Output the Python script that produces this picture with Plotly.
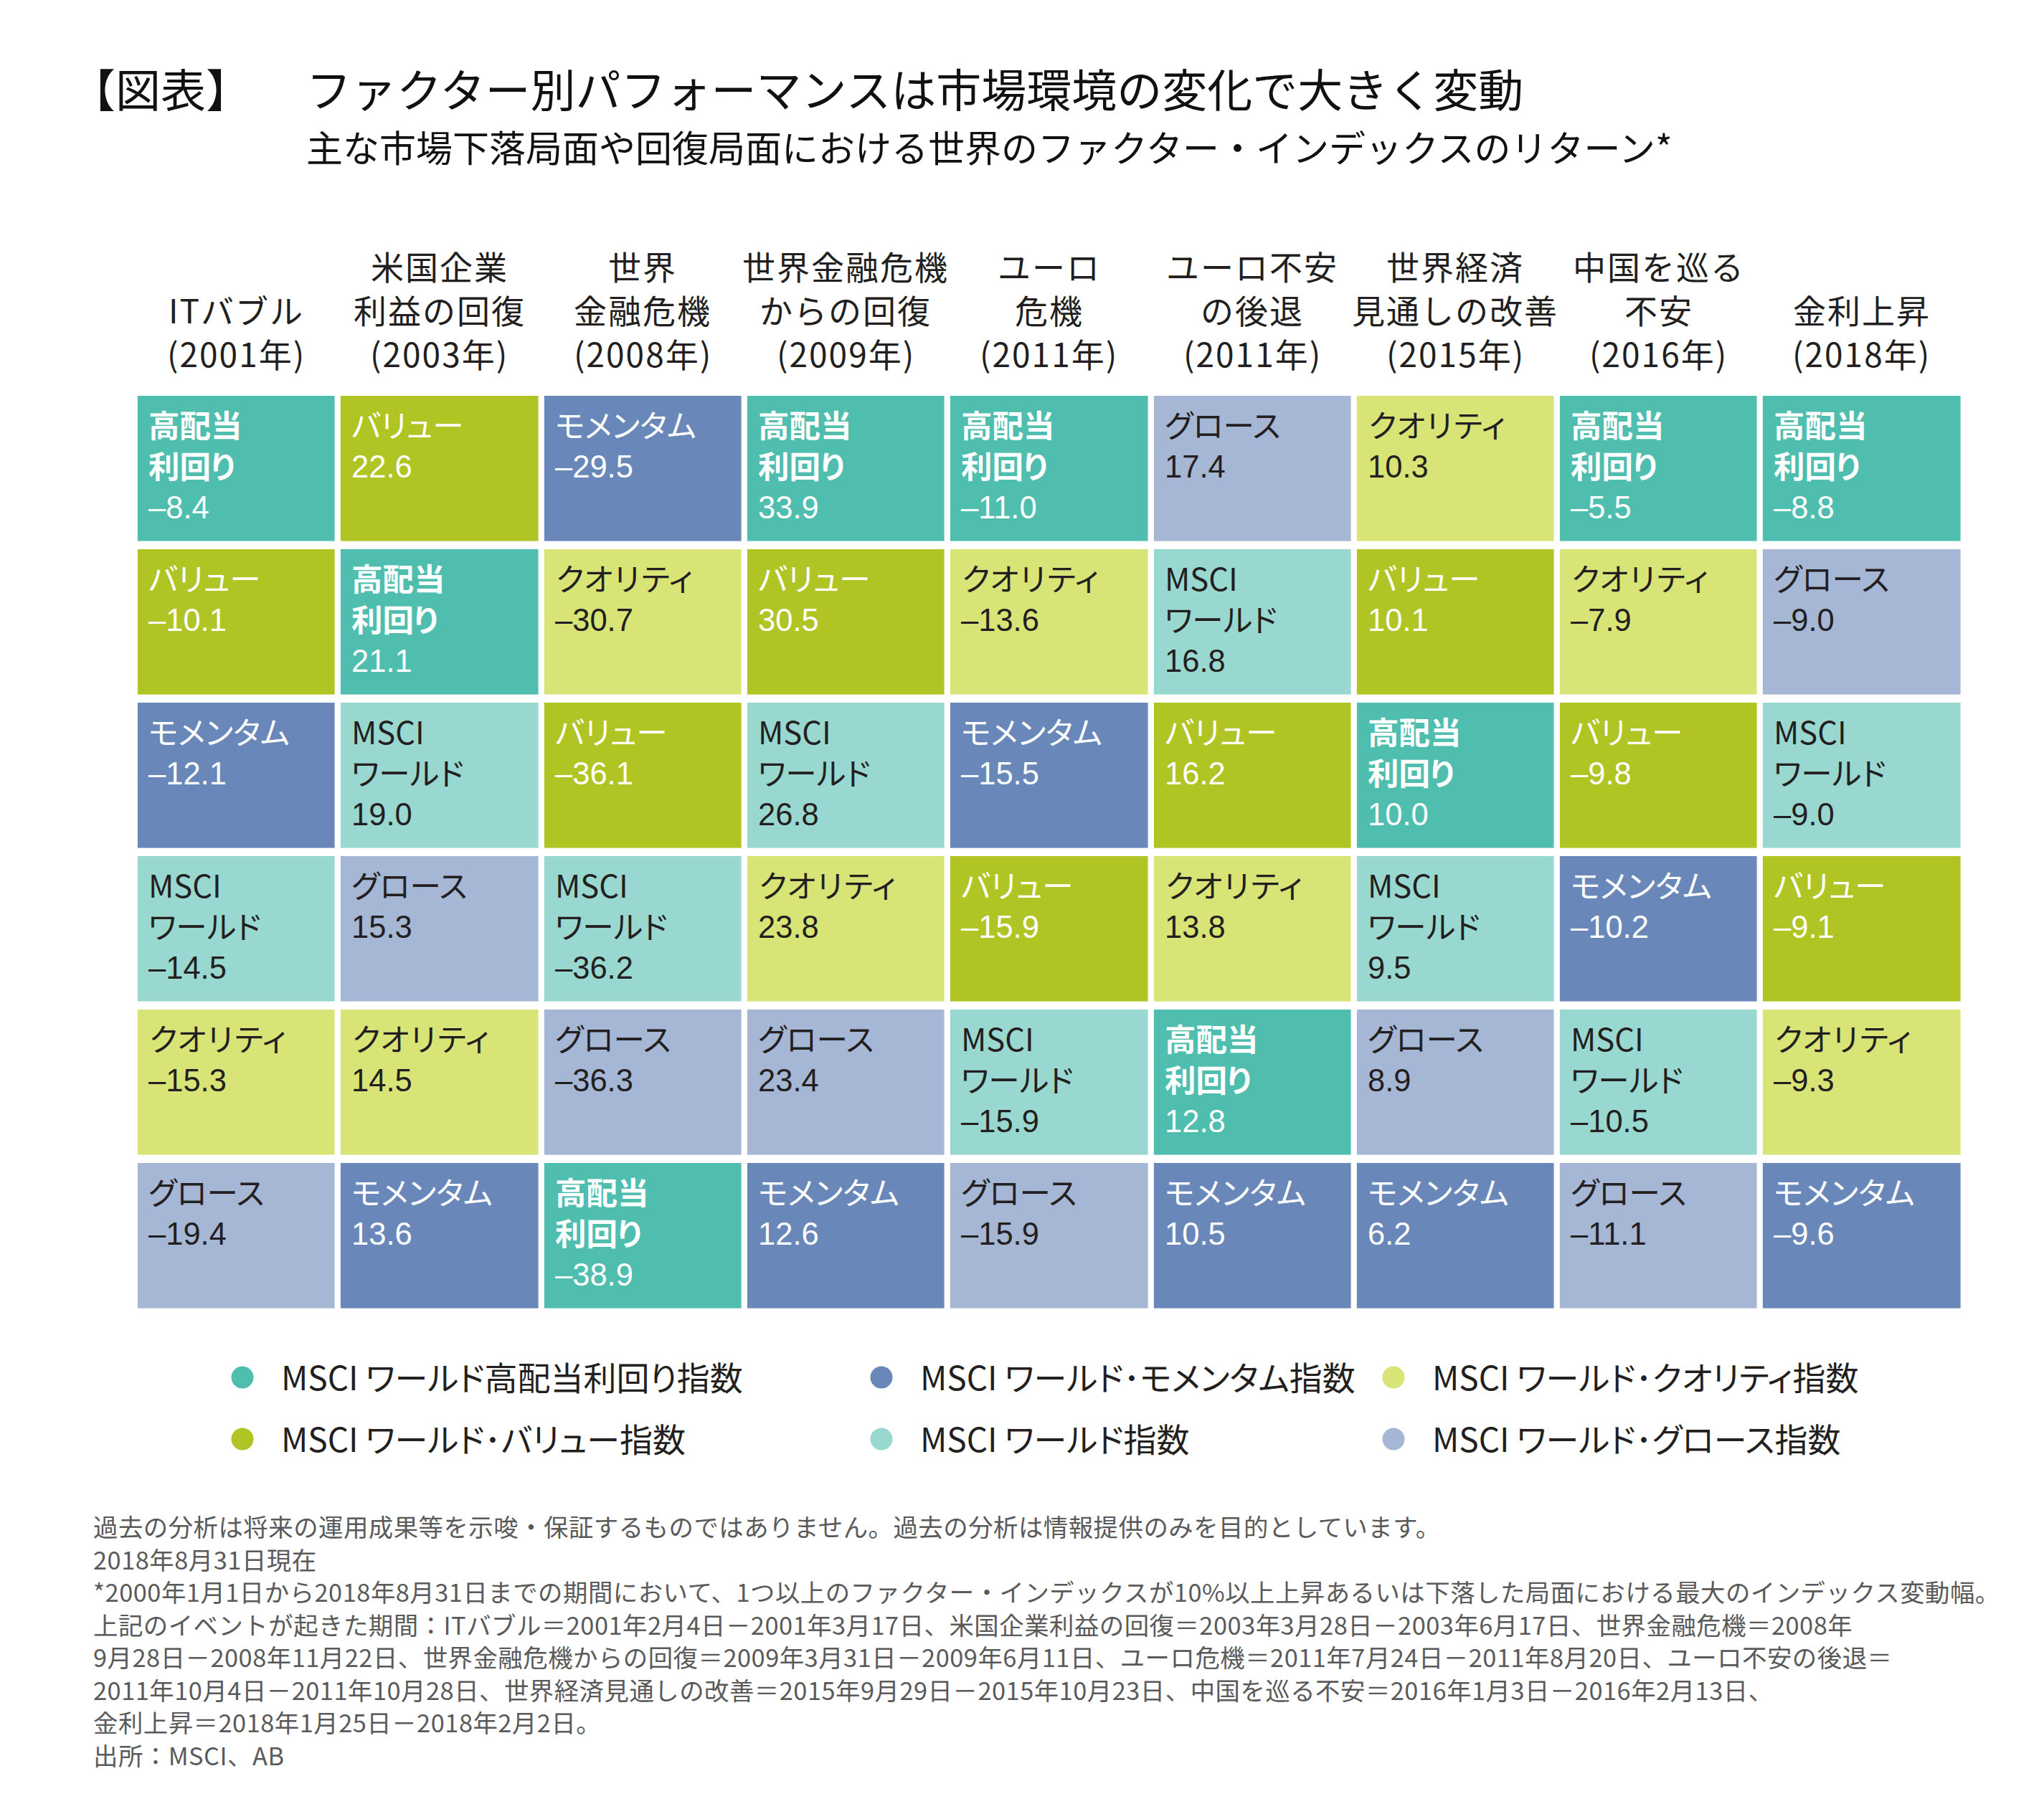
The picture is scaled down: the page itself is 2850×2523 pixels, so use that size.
import plotly.graph_objects as go

W, H = 2850, 2523

# ---------------- data ----------------
FACTOR_KEYS = ["HDY", "VAL", "MOM", "WLD", "QUA", "GRO"]
FACTOR_CELL_LABELS = {
    "HDY": ["高配当", "利回り"],
    "VAL": ["バリュー"],
    "MOM": ["モメンタム"],
    "WLD": ["MSCI", "ワールド"],
    "QUA": ["クオリティ"],
    "GRO": ["グロース"],
}
FACTOR_LEGEND_LABELS = {
    "HDY": "MSCI ワールド高配当利回り指数",
    "VAL": "MSCI ワールド･バリュー指数",
    "MOM": "MSCI ワールド･モメンタム指数",
    "WLD": "MSCI ワールド指数",
    "QUA": "MSCI ワールド･クオリティ指数",
    "GRO": "MSCI ワールド･グロース指数",
}
FACTOR_COLORS = {
    "HDY": "#50BEAE",
    "VAL": "#B0C423",
    "MOM": "#6988B9",
    "WLD": "#98D8D0",
    "QUA": "#D8E576",
    "GRO": "#A6B7D6",
}

EVENT_HEADERS = [
    ["ITバブル", "(2001年)"],
    ["米国企業", "利益の回復", "(2003年)"],
    ["世界", "金融危機", "(2008年)"],
    ["世界金融危機", "からの回復", "(2009年)"],
    ["ユーロ", "危機", "(2011年)"],
    ["ユーロ不安", "の後退", "(2011年)"],
    ["世界経済", "見通しの改善", "(2015年)"],
    ["中国を巡る", "不安", "(2016年)"],
    ["金利上昇", "(2018年)"],
]

# factor order (best to worst) within each event
RANK_ORDER = [
    ["HDY", "VAL", "MOM", "WLD", "QUA", "GRO"],
    ["VAL", "HDY", "WLD", "GRO", "QUA", "MOM"],
    ["MOM", "QUA", "VAL", "WLD", "GRO", "HDY"],
    ["HDY", "VAL", "WLD", "QUA", "GRO", "MOM"],
    ["HDY", "QUA", "MOM", "VAL", "WLD", "GRO"],
    ["GRO", "WLD", "VAL", "QUA", "HDY", "MOM"],
    ["QUA", "VAL", "HDY", "WLD", "GRO", "MOM"],
    ["HDY", "QUA", "VAL", "MOM", "WLD", "GRO"],
    ["HDY", "GRO", "WLD", "VAL", "QUA", "MOM"],
]
RETURNS = [
    [-8.4, -10.1, -12.1, -14.5, -15.3, -19.4],
    [22.6, 21.1, 19.0, 15.3, 14.5, 13.6],
    [-29.5, -30.7, -36.1, -36.2, -36.3, -38.9],
    [33.9, 30.5, 26.8, 23.8, 23.4, 12.6],
    [-11.0, -13.6, -15.5, -15.9, -15.9, -15.9],
    [17.4, 16.8, 16.2, 13.8, 12.8, 10.5],
    [10.3, 10.1, 10.0, 9.5, 8.9, 6.2],
    [-5.5, -7.9, -9.8, -10.2, -10.5, -11.1],
    [-8.8, -9.0, -9.0, -9.1, -9.3, -9.6],
]

LEGEND_ROWS = [["HDY", "MOM", "QUA"], ["VAL", "WLD", "GRO"]]

TITLE_TAG = "【図表】"
TITLE = "ファクター別パフォーマンスは市場環境の変化で大きく変動"
SUBTITLE = "主な市場下落局面や回復局面における世界のファクター・インデックスのリターン*"
FOOTNOTES = [
    "過去の分析は将来の運用成果等を示唆・保証するものではありません。過去の分析は情報提供のみを目的としています。",
    "2018年8月31日現在",
    "*2000年1月1日から2018年8月31日までの期間において、1つ以上のファクター・インデックスが10%以上上昇あるいは下落した局面における最大のインデックス変動幅。",
    "上記のイベントが起きた期間：ITバブル＝2001年2月4日－2001年3月17日、米国企業利益の回復＝2003年3月28日－2003年6月17日、世界金融危機＝2008年",
    "9月28日－2008年11月22日、世界金融危機からの回復＝2009年3月31日－2009年6月11日、ユーロ危機＝2011年7月24日－2011年8月20日、ユーロ不安の後退＝",
    "2011年10月4日－2011年10月28日、世界経済見通しの改善＝2015年9月29日－2015年10月23日、中国を巡る不安＝2016年1月3日－2016年2月13日、",
    "金利上昇＝2018年1月25日－2018年2月2日。",
    "出所：MSCI、AB",
]

# ---------------- style / layout ----------------
JP = "Noto Sans CJK JP"
NUM = "Liberation Sans"
DARK = "#231f20"
WHITE_TEXT = {"HDY", "VAL", "MOM"}
BOLD_LABEL = {"HDY"}
PALT = "font-feature-settings:'palt'"
LABEL_STYLE = {"QUA": "letter-spacing:-4px"}

OFF = 8  # page body margin in the browser

n_cols = len(EVENT_HEADERS)
n_rows = len(RANK_ORDER[0])

GRID_L, GRID_R = 187.85, 2737.55
GRID_T, GRID_B = 547.0, 1831.0
XGAP, YGAP = 8.3, 11.4


def px_x(v):
    return (v - OFF) / W


def px_y(v):
    return 1 - (v - OFF) / H


def span(txt, style):
    return '<span style="%s">%s</span>' % (style, txt)


fig = go.Figure()

code_of = {k: i for i, k in enumerate(FACTOR_KEYS)}
z = [[code_of[RANK_ORDER[c][r]] for c in range(n_cols)] for r in range(n_rows)]
nf = len(FACTOR_KEYS)
colorscale = []
for i, k in enumerate(FACTOR_KEYS):
    colorscale.append([i / nf, FACTOR_COLORS[k]])
    colorscale.append([(i + 1) / nf, FACTOR_COLORS[k]])

fig.add_trace(go.Heatmap(
    z=z, x=list(range(n_cols)), y=list(range(n_rows)),
    colorscale=colorscale, zmin=-0.5, zmax=nf - 0.5,
    xgap=XGAP, ygap=YGAP, showscale=False, hoverinfo="skip",
    xaxis="x", yaxis="y",
))

annotations = []

# cell texts (one annotation per line)
CELL_FS = 43.5
PITCH = 57.5
for c in range(n_cols):
    for r in range(n_rows):
        key = RANK_ORDER[c][r]
        col = "#ffffff" if key in WHITE_TEXT else DARK
        lines = []
        for lab in FACTOR_CELL_LABELS[key]:
            t = span(lab, LABEL_STYLE.get(key, PALT))
            if key in BOLD_LABEL:
                t = "<b>%s</b>" % t
            lines.append((t, JP, 44.0))
        v = RETURNS[c][r]
        lines.append((("%.1f" % v).replace("-", "–"), NUM, 46.0))
        for i, (txt, fam, base) in enumerate(lines):
            annotations.append(dict(
                x=c - 0.5, y=r - 0.5, xref="x", yref="y",
                xanchor="left", yanchor="middle",
                xshift=XGAP / 2 + 13, yshift=-(base + PITCH * i),
                text=txt, showarrow=False,
                font=dict(family=fam, size=CELL_FS, color=col),
            ))

# column headers (bottom aligned, one annotation per line)
HEADER_Y = [370.4, 431.4, 492.4]
for c, hdr in enumerate(EVENT_HEADERS):
    ys = HEADER_Y[len(HEADER_Y) - len(hdr):]
    for txt, yy in zip(hdr, ys):
        annotations.append(dict(
            x=c, xref="x", y=px_y(yy), yref="paper",
            xanchor="center", yanchor="middle",
            text=span(txt, "letter-spacing:2px"), showarrow=False,
            font=dict(family=JP, size=46, color=DARK),
        ))

# title
annotations.append(dict(x=px_x(96), y=px_y(121.5), xref="paper", yref="paper",
                        xanchor="left", yanchor="middle", text=TITLE_TAG,
                        showarrow=False, font=dict(family=JP, size=63, color="#111111")))
annotations.append(dict(x=px_x(424.5), y=px_y(121.5), xref="paper", yref="paper",
                        xanchor="left", yanchor="middle", text=TITLE,
                        showarrow=False, font=dict(family=JP, size=63, color="#111111")))
annotations.append(dict(x=px_x(425), y=px_y(204), xref="paper", yref="paper",
                        xanchor="left", yanchor="middle", text=SUBTITLE,
                        showarrow=False, font=dict(family=JP, size=51, color="#111111")))

# legend key (markers on an overlay axis, labels as annotations)
LEG_X = [338, 1229, 1943]
LEG_Y = [1921, 2007]
for ri, row in enumerate(LEGEND_ROWS):
    for ci, key in enumerate(row):
        fig.add_trace(go.Scatter(
            x=[px_x(LEG_X[ci])], y=[px_y(LEG_Y[ri])], mode="markers",
            marker=dict(size=31, color=FACTOR_COLORS[key]),
            xaxis="x2", yaxis="y2", showlegend=False, hoverinfo="skip",
            name=FACTOR_LEGEND_LABELS[key],
        ))
        annotations.append(dict(
            x=px_x(LEG_X[ci] + 52), y=px_y(LEG_Y[ri] - 2.5), xref="paper", yref="paper",
            xanchor="left", yanchor="middle",
            text=span(FACTOR_LEGEND_LABELS[key], PALT),
            showarrow=False, font=dict(family=JP, size=46, color=DARK),
        ))

# footnotes (one annotation per line)
for i, txt in enumerate(FOOTNOTES):
    annotations.append(dict(
        x=px_x(128), y=px_y(2128 + 45.5 * i), xref="paper", yref="paper",
        xanchor="left", yanchor="middle",
        text=span(txt, "letter-spacing:0.5px"), showarrow=False,
        font=dict(family=JP, size=34.4, color="#5a5a5a"),
    ))

fig.update_layout(
    width=W, height=H,
    margin=dict(l=0, r=0, t=0, b=0),
    paper_bgcolor="#ffffff", plot_bgcolor="rgba(0,0,0,0)",
    showlegend=False,
    xaxis=dict(domain=[px_x(GRID_L), px_x(GRID_R)], range=[-0.5, n_cols - 0.5],
               visible=False, fixedrange=True),
    yaxis=dict(domain=[px_y(GRID_B), px_y(GRID_T)], range=[n_rows - 0.5, -0.5],
               visible=False, fixedrange=True),
    xaxis2=dict(domain=[0, 1], range=[0, 1], anchor="y2", visible=False),
    yaxis2=dict(domain=[0, 1], range=[0, 1], anchor="x2", visible=False),
    annotations=annotations,
)

fig.write_html("out.html")
